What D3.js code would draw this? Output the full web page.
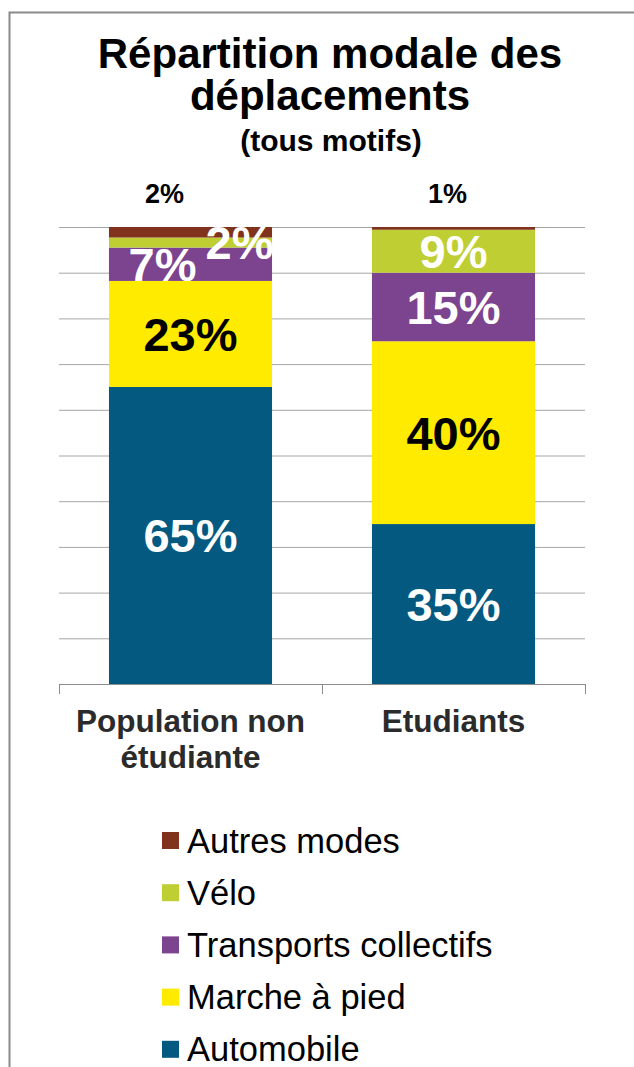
<!DOCTYPE html>
<html>
<head>
<meta charset="utf-8">
<script src="https://cdn.jsdelivr.net/npm/d3@7"></script>
<style>
  body { margin: 0; background: #fff; }
  svg { display: block; font-family: 'Liberation Sans', Arial, sans-serif; }
</style>
</head>
<body>
<svg width="634" height="1067"></svg>
<script>
const categories = ['Population non étudiante', 'Etudiants']
const modes = ['Automobile', 'Marche à pied', 'Transports collectifs', 'Vélo', 'Autres modes']
const automobile = [65, 35]
const marche = [23.2, 40]
const transports = [7.3, 15]
const velo = [2.2, 9.4]
const autres = [2.3, 0.6]
const gridTicks = [0.1, 0.2, 0.3, 0.4, 0.5, 0.6, 0.7, 0.8, 0.9, 1]

const colors = {
  'Automobile': '#03597f',
  'Marche à pied': '#ffeb00',
  'Transports collectifs': '#7c438f',
  'Vélo': '#bfce33',
  'Autres modes': '#80321c'
}

// labels that were dragged by hand in the original chart
const nudge = {
  'Population non étudiante': { 'Vélo': 49, 'Transports collectifs': -28, 'Autres modes': -26 },
  'Etudiants': { 'Autres modes': -6 }
}

const rows = categories.map((c, i) => ({
  category: c,
  'Automobile': automobile[i] / 100,
  'Marche à pied': marche[i] / 100,
  'Transports collectifs': transports[i] / 100,
  'Vélo': velo[i] / 100,
  'Autres modes': autres[i] / 100
}))

const svg = d3.select('svg')

// chart frame
svg.append('path')
  .attr('d', 'M9.5,1067 V12.5 H634')
  .attr('fill', 'none')
  .attr('stroke', '#8a8a8a')
  .attr('stroke-width', 2)

// title
const title = svg.append('text')
  .attr('text-anchor', 'middle')
  .attr('font-weight', 'bold')
  .attr('fill', '#000')
title.append('tspan').attr('x', 330).attr('y', 68).attr('font-size', 42).text('Répartition modale des')
title.append('tspan').attr('x', 330).attr('y', 110).attr('font-size', 42).text('déplacements')
title.append('tspan').attr('x', 331).attr('y', 151).attr('font-size', 30).text('(tous motifs)')

const x = d3.scaleBand()
  .domain(categories)
  .range([59, 585])
  .paddingInner(0.38)
  .paddingOuter(0.19)

const y = d3.scaleLinear().domain([0, 1]).range([684, 227])

// gridlines
svg.append('g')
  .selectAll('line')
  .data(gridTicks)
  .enter()
  .append('line')
  .attr('x1', x.range()[0])
  .attr('x2', x.range()[1])
  .attr('y1', d => y(d) + 0.5)
  .attr('y2', d => y(d) + 0.5)
  .attr('stroke', '#a6a6a6')
  .attr('stroke-width', 1)

const stack = d3.stack().keys(modes)
const series = stack(rows)

const layer = svg.append('g')
  .selectAll('g')
  .data(series)
  .enter()
  .append('g')
  .attr('fill', d => colors[d.key])

layer.selectAll('rect')
  .data(d => d)
  .enter()
  .append('rect')
  .attr('x', d => x(d.data.category))
  .attr('width', x.bandwidth())
  .attr('y', d => y(d[1]))
  .attr('height', d => y(d[0]) - y(d[1]))

// x axis: line + ticks on category boundaries
const axis = svg.append('g')
axis.append('line')
  .attr('x1', x.range()[0])
  .attr('x2', x.range()[1])
  .attr('y1', y(0) + 0.5)
  .attr('y2', y(0) + 0.5)
  .attr('stroke', '#8c8c8c')
axis.selectAll('.tick')
  .data(d3.range(categories.length + 1))
  .enter()
  .append('line')
  .attr('x1', i => x.range()[0] + i * x.step() + 0.5)
  .attr('x2', i => x.range()[0] + i * x.step() + 0.5)
  .attr('y1', y(0))
  .attr('y2', y(0) + 10)
  .attr('stroke', '#8c8c8c')

const catLabels = {
  'Population non étudiante': ['Population non', 'étudiante'],
  'Etudiants': ['Etudiants']
}
const cat = svg.append('g')
  .selectAll('text')
  .data(categories)
  .enter()
  .append('text')
  .attr('text-anchor', 'middle')
  .attr('font-weight', 'bold')
  .attr('font-size', 31.5)
  .attr('fill', '#2b2b2b')
cat.selectAll('tspan')
  .data(d => catLabels[d].map(t => ({ t, c: d })))
  .enter()
  .append('tspan')
  .attr('x', d => x(d.c) + x.bandwidth() / 2)
  .attr('y', (d, i) => y(0) + 48 + i * 36)
  .text(d => d.t)

// data labels
series.forEach(s => {
  s.forEach(d => {
    const c = d.data.category
    const v = Math.round((d[1] - d[0]) * 100)
    const dx = (nudge[c] && nudge[c][s.key]) || 0
    const cx = x(c) + x.bandwidth() / 2 + dx
    if (s.key === 'Autres modes') {
      svg.append('text')
        .attr('x', cx)
        .attr('y', y(1) - 24)
        .attr('text-anchor', 'middle')
        .attr('font-weight', 'bold')
        .attr('font-size', 27)
        .attr('fill', '#000')
        .text(v + '%')
    } else {
      svg.append('text')
        .attr('x', cx)
        .attr('y', (y(d[0]) + y(d[1])) / 2)
        .attr('dy', '0.36em')
        .attr('text-anchor', 'middle')
        .attr('font-weight', 'bold')
        .attr('font-size', 47)
        .attr('fill', s.key === 'Marche à pied' ? '#000' : '#fff')
        .text(v + '%')
    }
  })
})

// legend, top to bottom in reverse stacking order
const legend = svg.append('g')
  .selectAll('g')
  .data(modes.slice().reverse())
  .enter()
  .append('g')
  .attr('transform', (d, i) => 'translate(162,' + (832 + i * 52.2) + ')')
legend.append('rect')
  .attr('width', 17)
  .attr('height', 17)
  .attr('fill', d => colors[d])
legend.append('text')
  .attr('x', 25)
  .attr('y', 20.5)
  .attr('font-size', 34.5)
  .attr('fill', '#000')
  .text(d => d)
</script>
</body>
</html>
